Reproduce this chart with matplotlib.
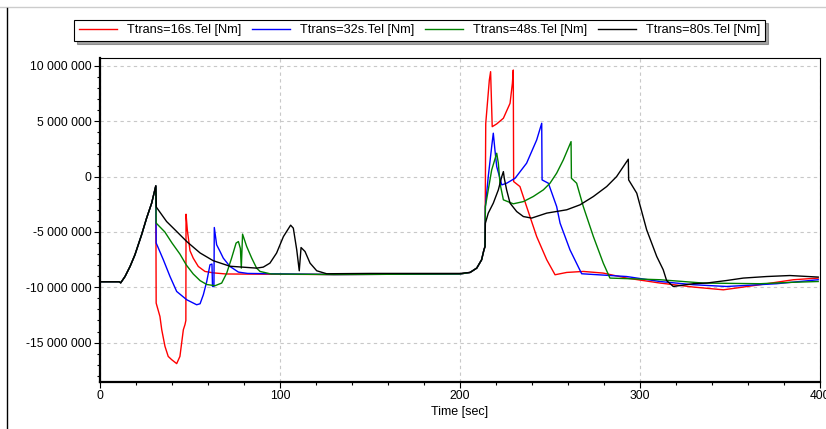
import numpy as np
import matplotlib
matplotlib.use("Agg")
import matplotlib.pyplot as plt
from matplotlib.ticker import MultipleLocator, FuncFormatter
from matplotlib.lines import Line2D

plt.rcParams['font.family'] = ['Liberation Sans', 'DejaVu Sans']

# shared start (all four runs are identical up to ~31 s), values in millions Nm
t_common = [0, 10.6, 11.5, 13.9, 16.7, 19.4, 23.1, 25.9, 28.7, 31.0]
v_common = [-9.5, -9.5, -9.6, -9.03, -8.12, -7.07, -5.26, -3.75, -2.4, -0.84]

t_red = [31.2, 33.3, 34.3, 36.1, 37.9, 39.8, 42.6, 44.4, 46.3, 47.2,
         47.7, 47.8, 48.5, 50.0, 51.8, 54.6, 58.3, 63.0, 70, 130,
         200, 205.6, 209.3, 212.0, 213.3, 213.9, 214.1, 214.3, 216.3, 217.0,
         217.9, 220.4, 224.1, 227.8, 229.1, 229.6, 229.8, 233.3, 237.0, 242.6,
         248.2, 252.8, 259.3, 268.5, 279.6, 292.6, 311.1, 329.6, 346.3, 366.7,
         385.2, 399.0]
v_red = [-11.43, -12.64, -13.84, -15.34, -16.25, -16.54, -16.9, -16.25, -13.84, -13.38,
         -13.0, -3.4, -4.8, -6.7, -7.37, -8.12, -8.57, -8.7, -8.8, -8.85,
         -8.8, -8.66, -8.27, -7.52, -6.62, -6.32, -0.6, 4.8, 8.73, 9.48,
         4.51, 4.76, 5.27, 6.62, 8.43, 9.63, -0.45, -0.9, -2.71, -5.42,
         -7.52, -8.87, -8.66, -8.57, -8.72, -9.17, -9.62, -9.98, -10.23, -9.77,
         -9.32, -9.17]

t_blue = [31.2, 35.2, 38.9, 42.6, 48.2, 53.7, 55.6, 57.4, 59.3, 61.1,
          62.2, 62.5, 63.3, 63.5, 64.8, 66.7, 68.5, 72.2, 76.9, 82,
          130, 200, 205.6, 209.3, 212.0, 213.3, 213.9, 214.1, 215.7, 217.6,
          218.5, 219.4, 220.4, 223.2, 225.9, 230.6, 237.0, 242.6, 245.4, 245.6,
          249.1, 253.7, 255.6, 261.1, 267.6, 292.6, 311.1, 329.6, 348.1, 375.9,
          399.0]
v_blue = [-6.0, -7.52, -9.03, -10.38, -11.13, -11.58, -11.49, -10.68, -9.48, -7.97,
          -7.9, -9.93, -9.93, -4.6, -6.16, -6.77, -7.37, -8.12, -8.63, -8.75,
          -8.85, -8.8, -8.66, -8.27, -7.52, -6.62, -6.32, -2.71, 0.0, 2.71,
          3.92, 2.41, 0.9, -0.75, -0.6, -0.15, 1.21, 3.31, 4.82, -0.3,
          -0.6, -2.71, -4.21, -6.62, -8.78, -9.03, -9.48, -9.77, -9.93, -9.68,
          -9.32]

t_green = [31.2, 36.0, 40.0, 44.4, 48.0, 51.8, 55.6, 59.3, 63.9, 67.6,
           70.4, 73.1, 75.6, 76.9, 78.0, 78.5, 79.2, 81.5, 84.3, 87.0,
           88.9, 95, 130, 200, 205.6, 209.3, 212.0, 213.3, 213.9, 214.1,
           215.7, 217.6, 220.4, 221.3, 222.2, 224.1, 229.6, 235.2, 240.7, 246.3,
           250.0, 253.7, 257.4, 261.7, 261.9, 264.8, 268.5, 274.1, 279.6, 283.3,
           311.1, 335.2, 366.7, 383.3, 399.0]
v_green = [-4.2, -5.0, -6.0, -7.0, -8.0, -8.8, -9.4, -9.75, -9.86, -9.62,
           -8.72, -7.37, -6.01, -5.87, -6.5, -8.27, -5.2, -6.32, -7.37, -8.27,
           -8.57, -8.8, -8.85, -8.8, -8.66, -8.27, -7.52, -6.62, -6.32, -2.71,
           -1.2, 0.6, 2.11, 1.21, -0.6, -2.1, -2.46, -2.26, -1.8, -1.2,
           -0.6, 0.31, 1.51, 3.16, -0.15, -0.6, -2.71, -5.42, -7.82, -9.17,
           -9.32, -9.62, -9.68, -9.56, -9.48]

t_black = [31.3, 37.0, 42.6, 48.2, 55.6, 62.9, 72.2, 87.0, 90.7, 94.4,
           98.1, 101.9, 105.9, 107.4, 109.3, 110.7, 111.7, 113.9, 116.7, 120.4,
           125.9, 150, 200, 205.6, 209.3, 212.0, 213.3, 213.9, 214.1, 215.7,
           218.5, 221.3, 223.2, 224.1, 224.6, 225.9, 227.8, 231.5, 235.2, 239.8,
           248.2, 259.3, 266.7, 274.1, 281.5, 287.0, 293.5, 293.7, 298.2, 303.7,
           309.3, 312.9, 314.8, 318.5, 329.6, 337.0, 348.1, 357.4, 370.4, 383.3,
           399.0]
v_black = [-2.76, -4.06, -4.96, -5.87, -6.9, -7.6, -8.1, -8.27, -8.18, -7.82,
           -6.91, -5.42, -4.39, -4.66, -6.62, -8.51, -6.41, -6.77, -7.82, -8.51,
           -8.78, -8.75, -8.75, -8.66, -8.27, -7.52, -6.62, -6.32, -4.21, -3.3,
           -2.4, -1.2, 0.0, 0.45, -0.15, -1.2, -2.4, -3.16, -3.61, -3.75,
           -3.3, -3.0, -2.55, -1.8, -0.9, 0.0, 1.57, -0.3, -1.5, -4.81,
           -7.22, -8.42, -9.4, -9.93, -9.68, -9.62, -9.39, -9.17, -9.03, -8.94,
           -9.08]

labels = ['Ttrans=16s.Tel [Nm]', 'Ttrans=32s.Tel [Nm]',
          'Ttrans=48s.Tel [Nm]', 'Ttrans=80s.Tel [Nm]']
colors = ['#ff0000', '#0000ff', '#008000', '#000000']
series = [(t_red, v_red), (t_blue, v_blue), (t_green, v_green), (t_black, v_black)]

fig = plt.figure(figsize=(8.26, 4.29), dpi=100)
ax = fig.add_axes([100 / 826, 1 - 382 / 429, 720 / 826, (382 - 57.5) / 429])

for (tt, vv), c, lab in zip(series, colors, labels):
    t = np.array(t_common + tt)
    v = np.array(v_common + vv) * 1e6
    ax.plot(t, v, color=c, lw=1.0, label=lab)

ax.set_xlim(0, 400)
ax.set_ylim(-18.56e6, 10.76e6)

ax.xaxis.set_major_locator(MultipleLocator(100))
ax.xaxis.set_minor_locator(MultipleLocator(20))
ax.yaxis.set_major_locator(MultipleLocator(5e6))
ax.yaxis.set_minor_locator(MultipleLocator(1e6))
ax.yaxis.set_major_formatter(FuncFormatter(lambda v, p: f"{int(round(v)):,}".replace(",", " ")))

ax.grid(True, which='major', color='#c8c8c8', linestyle=(0, (3, 3)), lw=0.8)
ax.tick_params(which='major', direction='out', length=4, width=0.8, labelsize=8.7, pad=2)
ax.tick_params(which='minor', direction='out', length=2.2, width=0.8)

for s in ['left', 'bottom']:
    ax.spines[s].set_linewidth(1.6)
for s in ['top', 'right']:
    ax.spines[s].set_linewidth(0.8)

ax.set_xlabel('Time [sec]', fontsize=9, labelpad=3)

leg = fig.legend(loc='center', bbox_to_anchor=(419.5 / 826, 1 - 30.5 / 429), ncol=4,
                 fontsize=9.2, frameon=True, fancybox=False, shadow=True,
                 handlelength=3.0, handletextpad=0.8, columnspacing=0.8,
                 borderpad=0.35, borderaxespad=0)
leg.get_frame().set_edgecolor('black')
leg.get_frame().set_linewidth(0.8)

# outer window frame
fig.add_artist(Line2D([0, 1], [1 - 7 / 429, 1 - 7 / 429], color='#cccccc', lw=1))
fig.add_artist(Line2D([7 / 826, 7 / 826], [0, 1 - 8 / 429], color='black', lw=1))

fig.savefig('out.png', dpi=100)
